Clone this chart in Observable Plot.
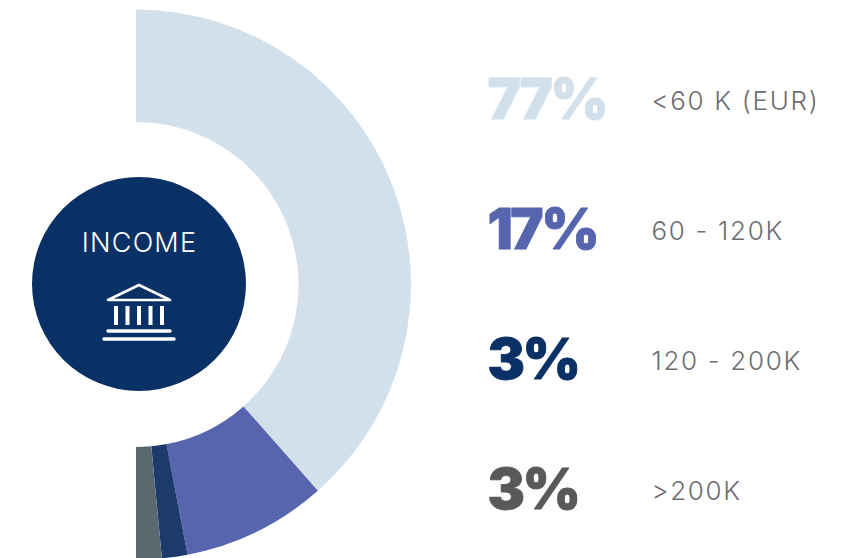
<!DOCTYPE html>
<html>
<head>
<meta charset="utf-8">
<script src="https://cdn.jsdelivr.net/npm/d3@7"></script>
<script src="https://cdn.jsdelivr.net/npm/@observablehq/plot@0.6"></script>
<style>
  html, body { margin: 0; padding: 0; background: #fff; }
  svg { display: block; }
</style>
</head>
<body>
<div id="chart"></div>
<script>
// Income bands and their shares of respondents
const bands = ["<60 K (EUR)", "60 - 120K", "120 - 200K", ">200K"];
const shares = [77, 17, 3, 3];
const arcColors = ["#d2e0ec", "#5764ae", "#1c3a6b", "#5a6870"];
const labelColors = ["#d2e0ec", "#5764ae", "#0a3065", "#58595b"];
const centerTitle = ["INCOME"];

const rows = bands.map((band, i) => ({
  band,
  share: shares[i],
  percent: `${shares[i]}%`,
  labelColor: labelColors[i]
}));

const hub = {x: 136, y: 284.5, inner: 162.5, outer: 275};

// Stacked bar whose scaled extents are angles: redrawn as half-donut slices
function arcSlices(index, scales, values) {
  const arc = d3.arc().innerRadius(hub.inner).outerRadius(hub.outer);
  const g = d3.create("svg:g").attr("transform", `translate(${hub.x},${hub.y})`);
  for (const i of index) {
    g.append("path")
      .attr("d", arc({startAngle: values.x1[i], endAngle: values.x2[i]}))
      .attr("fill", values.fill[i]);
  }
  return g.node();
}

// Render wrapper that sets the tracking of a text mark
const tracked = (px) => (index, scales, values, dimensions, context, next) => {
  const g = next(index, scales, values, dimensions, context);
  g.style.letterSpacing = `${px}px`;
  return g;
};

// Small white bank pictogram inside the centre disc
function bankIcon() {
  const g = d3.create("svg:g")
    .attr("transform", "translate(139,285)")
    .attr("fill", "none")
    .attr("stroke", "#fff")
    .attr("stroke-linecap", "round")
    .attr("stroke-linejoin", "round");
  g.append("path").attr("d", "M0,0L-31,15H31Z").attr("stroke-width", 2.6);
  for (const dx of [-23, -11.5, 0, 11.5, 23]) {
    g.append("path").attr("d", `M${dx},21V40`).attr("stroke-width", 4).attr("stroke-linecap", "butt");
  }
  g.append("path").attr("d", "M-31,46H31").attr("stroke-width", 3.4);
  g.append("path").attr("d", "M-35,54H35").attr("stroke-width", 3.4);
  return g.node();
}

const chart = Plot.plot({
  width: 862,
  height: 558,
  margin: 0,
  style: {background: "transparent"},
  x: {domain: [0, 100], range: [0, Math.PI], axis: null},
  y: {type: "point", domain: bands, range: [100, 490], padding: 0, axis: null},
  color: {domain: bands, range: arcColors},
  marks: [
    Plot.barX(rows, Plot.stackX({x: "share", fill: "band", order: null, render: arcSlices})),
    Plot.dot(centerTitle, {frameAnchor: "top-left", dx: 138.5, dy: 283.5, r: 107, fill: "#0a3166", stroke: null}),
    Plot.text(centerTitle, {
      text: d => d, frameAnchor: "top-left", textAnchor: "middle", dx: 139, dy: 232,
      fill: "#fff", fontSize: 27, fontWeight: 300, fontFamily: "Inter", render: tracked(1.2)
    }),
    bankIcon,
    Plot.text(rows, {
      y: "band", text: "percent", frameAnchor: "left", textAnchor: "start", dx: 487, dy: 1,
      fill: "labelColor", stroke: "labelColor", strokeWidth: 0.8,
      fontSize: 56, fontWeight: 900, fontFamily: "Inter", render: tracked(-2.5)
    }),
    Plot.text(rows, {
      y: "band", text: "band", frameAnchor: "left", textAnchor: "start", dx: 651, dy: 1,
      fill: "#6d6e71", fontSize: 26, fontWeight: 300, fontFamily: "Inter", render: tracked(1.7)
    })
  ]
});
document.getElementById("chart").append(chart);
</script>
</body>
</html>
